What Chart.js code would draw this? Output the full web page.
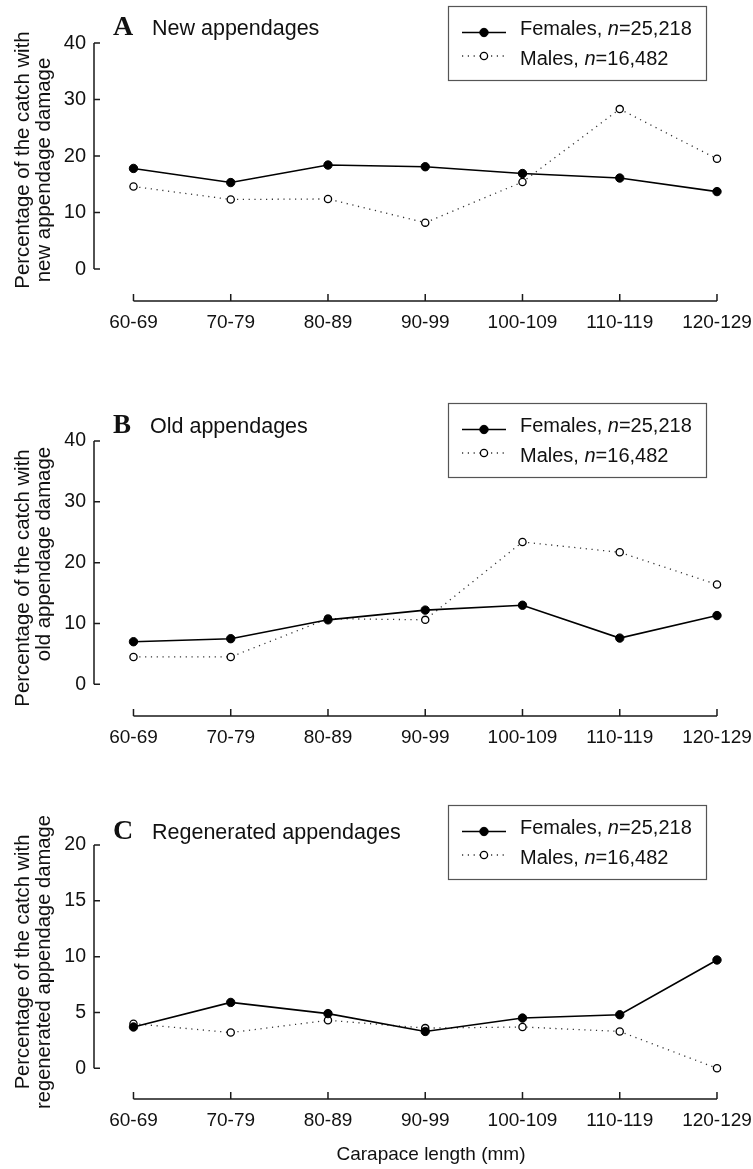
<!DOCTYPE html>
<html><head><meta charset="utf-8">
<script src="https://cdn.jsdelivr.net/npm/chart.js@4/dist/chart.umd.min.js"></script>
<style>
html,body{margin:0;padding:0;background:#fff;}
#wrap{position:relative;width:753px;height:1169px;background:#fff;}
canvas{position:absolute;left:0;}
</style></head><body>
<div id="wrap">
<canvas id="cA" width="753" height="390" style="top:0px"></canvas>
<canvas id="cB" width="753" height="390" style="top:390px"></canvas>
<canvas id="cC" width="753" height="389" style="top:780px"></canvas>
</div>
<script>
// ---- data ----
const categories = ['60-69','70-79','80-89','90-99','100-109','110-119','120-129'];
const seriesNames = ['Females','Males'];
const seriesCounts = ['25,218','16,482'];

const newFemales = [17.8, 15.3, 18.4, 18.1, 16.9, 16.1, 13.7];
const newMales   = [14.6, 12.3, 12.4, 8.2, 15.4, 28.3, 19.5];
const oldFemales = [7.0, 7.5, 10.6, 12.2, 13.0, 7.6, 11.3];
const oldMales   = [4.5, 4.5, 10.8, 10.6, 23.4, 21.7, 16.4];
const regFemales = [3.7, 5.9, 4.9, 3.3, 4.5, 4.8, 9.7];
const regMales   = [4.0, 3.2, 4.3, 3.6, 3.7, 3.3, 0.0];

const yTicksAB = [0, 10, 20, 30, 40];
const yTicksC  = [0, 5, 10, 15, 20];

const panelLetters = ['A', 'B', 'C'];
const panelTitles = ['New appendages', 'Old appendages', 'Regenerated appendages'];
const yTitles = [
  ['Percentage of the catch with', 'new appendage damage'],
  ['Percentage of the catch with', 'old appendage damage'],
  ['Percentage of the catch with', 'regenerated appendage damage']
];
const xTitle = 'Carapace length (mm)';

// ---- layout (pixel placement, per panel) ----
const panels = [
  {id:'cA', h:390, top:43, axis:301, yMin:-5.664, yMax:40, ticks:yTicksAB, fem:newFemales, mal:newMales,
   tickFont:20, yTitleFont:20.4, yTitleC:[160,170], letterY:35, letterSize:28, titleX:152, legendTop:6},
  {id:'cB', h:390, top:51, axis:326, yMin:-5.21, yMax:40, ticks:yTicksAB, fem:oldFemales, mal:oldMales,
   tickFont:19.5, yTitleFont:20.4, yTitleC:[188,164], letterY:43.3, letterSize:27, titleX:150, legendTop:13},
  {id:'cC', h:389, top:65, axis:319, yMin:-2.75, yMax:20, ticks:yTicksC, fem:regFemales, mal:regMales,
   tickFont:19.5, yTitleFont:20.2, yTitleC:[182,182], letterY:58.5, letterSize:28, titleX:152, legendTop:25, showX:true}
];

const SANS = '"Liberation Sans", Arial, Helvetica, sans-serif';
const SERIF = '"Liberation Serif", "Times New Roman", serif';

const axesPlugin = {
  id: 'customAxes',
  beforeDatasetsDraw(chart) {
    const {ctx, scales:{x, y}, chartArea} = chart;
    ctx.save();
    ctx.strokeStyle = '#1a1a1a';
    ctx.lineWidth = 1.5;
    const yt = y.ticks;
    const ax = chartArea.left;
    ctx.beginPath();
    ctx.moveTo(ax, y.getPixelForValue(yt[0].value));
    ctx.lineTo(ax, y.getPixelForValue(yt[yt.length-1].value));
    yt.forEach(t => { const p = y.getPixelForValue(t.value); ctx.moveTo(ax, p); ctx.lineTo(ax + 6, p); });
    const xt = x.ticks;
    const ay = chartArea.bottom;
    ctx.moveTo(x.getPixelForValue(xt[0].value), ay);
    ctx.lineTo(x.getPixelForValue(xt[xt.length-1].value), ay);
    xt.forEach(t => { const p = x.getPixelForValue(t.value); ctx.moveTo(p, ay); ctx.lineTo(p, ay - 7); });
    ctx.stroke();
    ctx.restore();
  }
};

const textPlugin = {
  id: 'panelText',
  afterDraw(chart) {
    const P = chart.options.plugins.panelText;
    const ctx = chart.ctx;
    ctx.save();
    ctx.fillStyle = '#111';
    ctx.textBaseline = 'alphabetic';
    // panel letter + title
    ctx.textAlign = 'left';
    ctx.font = 'bold ' + P.letterSize + 'px ' + SERIF;
    ctx.fillText(P.letter, 113, P.letterY);
    ctx.font = '21.5px ' + SANS;
    ctx.fillText(P.title, P.titleX, P.letterY);
    // y titles
    ctx.font = P.yTitleFont + 'px ' + SANS;
    ctx.textAlign = 'center';
    const bx = [29, 50];
    P.yTitle.forEach((line, i) => {
      ctx.save();
      ctx.translate(bx[i], P.yTitleC[i]);
      ctx.rotate(-Math.PI / 2);
      ctx.fillText(line, 0, 0);
      ctx.restore();
    });
    // x title
    if (P.xTitle) {
      ctx.font = '19px ' + SANS;
      ctx.textAlign = 'center';
      ctx.fillText(P.xTitle, 431, 379.5);
    }
    // legend
    const lt = P.legendTop;
    ctx.strokeStyle = '#555';
    ctx.lineWidth = 1.2;
    ctx.strokeRect(448.5, lt + 0.5, 258, 74);
    const ds = chart.data.datasets;
    const rowLine = [lt + 26.5, lt + 50];
    const rowText = [lt + 29, lt + 59];
    ds.forEach((d, i) => {
      ctx.save();
      ctx.strokeStyle = d.borderColor;
      ctx.lineWidth = d.borderWidth;
      ctx.setLineDash(d.borderDash || []);
      ctx.beginPath();
      ctx.moveTo(462, rowLine[i]); ctx.lineTo(506, rowLine[i]);
      ctx.stroke();
      ctx.setLineDash([]);
      ctx.beginPath();
      ctx.arc(484, rowLine[i], d.pointRadius, 0, Math.PI * 2);
      ctx.fillStyle = d.pointBackgroundColor;
      ctx.fill();
      ctx.lineWidth = d.pointBorderWidth;
      ctx.strokeStyle = d.pointBorderColor;
      ctx.stroke();
      ctx.restore();
      // text with italic n
      ctx.textAlign = 'left';
      let tx = 520;
      const parts = [[seriesNames[i] + ', ', ''], ['n', 'italic '], ['=' + seriesCounts[i], '']];
      parts.forEach(([s, st]) => {
        ctx.font = st + '20px ' + SANS;
        ctx.fillText(s, tx, rowText[i]);
        tx += ctx.measureText(s).width;
      });
    });
    ctx.restore();
  }
};

panels.forEach((L, k) => {
  const pts = arr => categories.map((c, i) => ({x: i, y: arr[i]}));
  new Chart(document.getElementById(L.id), {
    type: 'line',
    data: {
      datasets: [
        {label: seriesNames[0], data: pts(L.fem), order: 0,
         borderColor: '#000', borderWidth: 1.6, pointRadius: 4.2, pointBackgroundColor: '#000',
         pointBorderColor: '#000', pointBorderWidth: 1, tension: 0, fill: false},
        {label: seriesNames[1], data: pts(L.mal), order: 1,
         borderColor: '#333', borderWidth: 1.3, borderDash: [1.2, 4.6], pointRadius: 3.6,
         pointBackgroundColor: '#fff', pointBorderColor: '#000', pointBorderWidth: 1.3, tension: 0, fill: false}
      ]
    },
    options: {
      responsive: false, animation: false, devicePixelRatio: 1,
      layout: {padding: {top: L.top, left: 0, right: 8, bottom: 0}},
      plugins: {
        legend: {display: false}, tooltip: {enabled: false},
        panelText: {letter: panelLetters[k], title: panelTitles[k], letterY: L.letterY, letterSize: L.letterSize,
          titleX: L.titleX, yTitle: yTitles[k], yTitleFont: L.yTitleFont, yTitleC: L.yTitleC,
          legendTop: L.legendTop, xTitle: L.showX ? xTitle : null}
      },
      scales: {
        x: {type: 'linear', min: -0.406, max: 6.288,
            grid: {display: false, drawTicks: false}, border: {display: false},
            afterBuildTicks: s => { s.ticks = categories.map((_, i) => ({value: i})); },
            afterFit: s => { s.height = L.h - L.axis; s.paddingLeft = 0; s.paddingRight = 0; },
            ticks: {autoSkip: false, maxRotation: 0, minRotation: 0, padding: 10, color: '#111',
                    font: {family: SANS, size: 19}, callback: v => categories[v] ?? ''}},
        y: {type: 'linear', min: L.yMin, max: L.yMax,
            grid: {display: false, drawTicks: false}, border: {display: false},
            afterBuildTicks: s => { s.ticks = L.ticks.map(v => ({value: v})); },
            afterFit: s => { s.width = 94; s.paddingTop = 0; s.paddingBottom = 0; },
            ticks: {padding: 8, color: '#111', font: {family: SANS, size: L.tickFont}}}
      }
    },
    plugins: [axesPlugin, textPlugin]
  });
});
</script>
</body></html>
